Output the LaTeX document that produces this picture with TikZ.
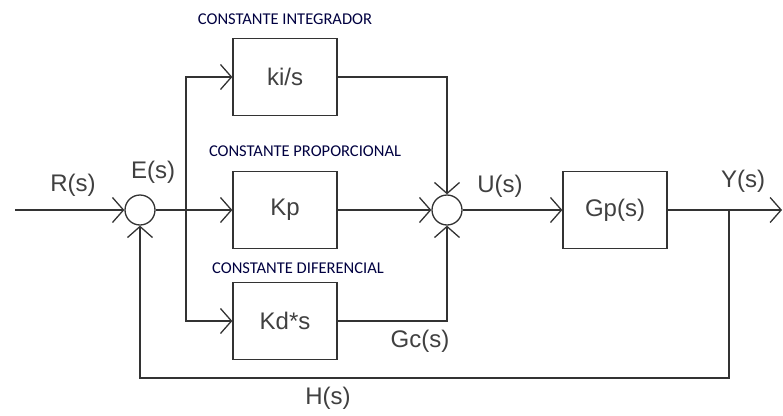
\documentclass[tikz,border=0pt]{standalone}
\usepackage{fontspec}
\setmainfont{Liberation Sans}
\newfontfamily\capfont{Carlito}
\usetikzlibrary{arrows.meta,positioning}

\begin{document}
\begin{tikzpicture}[x=1pt, y=-1pt, font=\fontsize{24}{26}\selectfont, >={Straight Barb[length=11pt,width=25pt]},
  block/.style={draw=black!80, line width=1.3pt, align=center, minimum width=104pt, minimum height=77pt, text=black!75},
  sum/.style={draw=black!80, line width=1.3pt, circle, minimum size=30pt, inner sep=0pt},
  line/.style={->, draw=black!80, line width=1.3pt},
  sig/.style={text=black!75},
  tag/.style={font=\capfont\fontsize{16.5}{18}\selectfont, text=blue!25!black}]
\useasboundingbox (0,0) rectangle (783,415);
\node[block] (ki) at (285,77) {ki/s};
\node[block] (kp) at (285,210) {Kp};
\node[block] (kd) at (285,321) {Kd*s};
\node[block] (gp) at (615,210) {Gp(s)};
\node[sum] (se) at (140,210) {};
\node[sum] (su) at (447,210) {};
\coordinate (in) at (15,210);
\coordinate (out) at (782,210);
\coordinate (split) at (186,210);
\coordinate (tap) at (729,210);
\coordinate (fb) at (729,378);
\draw[line] (in) -- (se);
\draw[line] (se) -- (kp);
\draw[line] (split) |- (ki);
\draw[line] (split) |- (kd);
\draw[line] (ki) -| (su);
\draw[line] (kp) -- (su);
\draw[line] (kd) -| (su);
\draw[line] (su) -- (gp);
\draw[line] (gp) -- (out);
\draw[line] (tap) -- (fb) -| (se);
\node[sig] (rs) at (73,185) {R(s)};
\node[sig] (es) at (153,172) {E(s)};
\node[sig] (us) at (500,186) {U(s)};
\node[sig] (ys) at (743,181) {Y(s)};
\node[sig] (gc) at (420,341) {Gc(s)};
\node[sig] (hs) at (328,398) {H(s)};
\node[tag] (ti) at (285,19) {CONSTANTE INTEGRADOR};
\node[tag] (tp) at (305,151) {CONSTANTE PROPORCIONAL};
\node[tag] (td) at (298,268) {CONSTANTE DIFERENCIAL};
\end{tikzpicture}
\end{document}
